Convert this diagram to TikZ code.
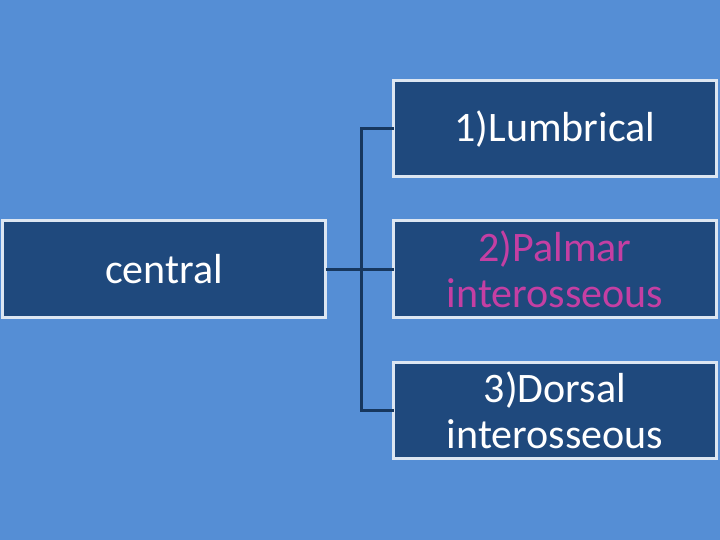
\documentclass[tikz,border=0pt]{standalone}
\usepackage{fontspec}
\setmainfont{Carlito}
\definecolor{bg}{HTML}{558ED5}
\definecolor{boxfill}{HTML}{1F497D}
\definecolor{boxline}{HTML}{DCE6F2}
\definecolor{conn}{HTML}{17375E}
\definecolor{mag}{HTML}{C43FA3}
\begin{document}
\begin{tikzpicture}[x=1pt,y=-1pt,
  box/.style={draw=boxline, line width=3pt, fill=boxfill, text=white,
    minimum width=323pt, minimum height=96pt, inner sep=0pt, outer sep=0pt,
    align=center, font=\fontsize{42}{46}\selectfont},
  link/.style={draw=conn, line width=3pt}]
\fill[bg] (0,0) rectangle (720,540);
\useasboundingbox (0,0) rectangle (720,540);
\node[box] (c) at (164,269) {central};
\node[box] (a) at (555,129) {1)Lumbrical};
\node[box, text=mag] (b) at (555,269) {2)Palmar\\interosseous};
\node[box] (d) at (555,410) {3)Dorsal\\interosseous};
\coordinate (jx) at (361,269);
\draw[link] (c.east) -- (b.west);
\draw[link] (a.west) -| (jx) |- (d.west);
\end{tikzpicture}
\end{document}
